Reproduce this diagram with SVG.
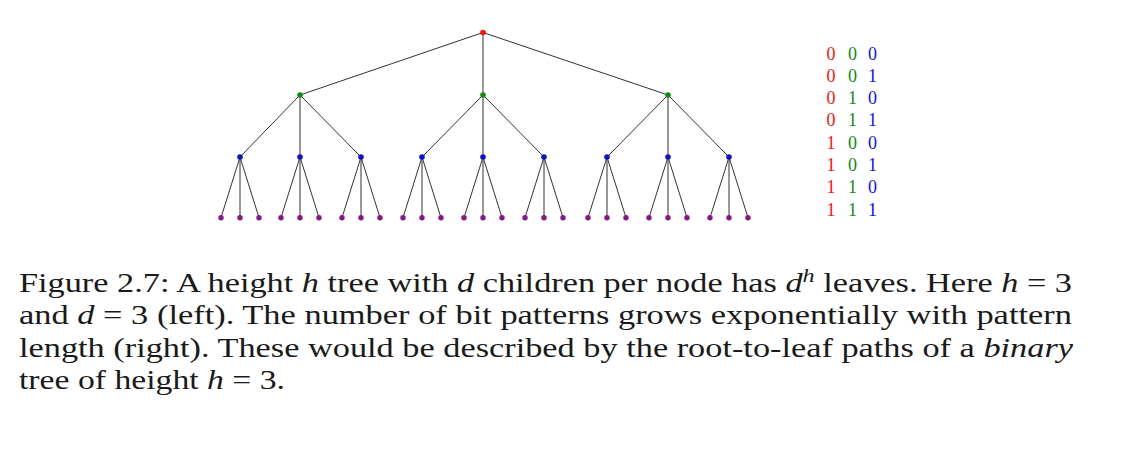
<svg xmlns="http://www.w3.org/2000/svg" width="1122" height="452" viewBox="0 0 1122 452">
<style>
.e{stroke:#333333;stroke-width:1;fill:none}
.r{fill:#ff0d0d}.g{fill:#138a13}.b{fill:#1010d0}.p{fill:#8a148a}
.bit{font-family:"Liberation Serif",serif;font-size:18px;text-anchor:middle}
.br{fill:#ff1010}.bg{fill:#108a10}.bb{fill:#1010ff}
.cap{font-family:"Liberation Serif","DejaVu Serif",serif;font-size:27px;fill:#1a1a1a}
.it{font-style:italic}
</style>
<rect width="1122" height="452" fill="#ffffff"/>
<g id="connectors">
<path class="e" d="M483,32.5L300,95M483,32.5L483,95M483,32.5L668,95"/>
<path class="e" d="M300,95L240,157M300,95L300,157M300,95L361,157M483,95L422,157M483,95L483,157M483,95L544,157M668,95L607,157M668,95L668,157M668,95L729,157"/>
<path class="e" d="M240,157L221,217.7M240,157L240,217.7M240,157L259,217.7
M300,157L281,217.7M300,157L300,217.7M300,157L319,217.7
M361,157L342,217.7M361,157L361,217.7M361,157L380,217.7
M422,157L403,217.7M422,157L422,217.7M422,157L441,217.7
M483,157L464,217.7M483,157L483,217.7M483,157L502,217.7
M544,157L525,217.7M544,157L544,217.7M544,157L563,217.7
M607,157L588,217.7M607,157L607,217.7M607,157L626,217.7
M668,157L649,217.7M668,157L668,217.7M668,157L687,217.7
M729,157L710,217.7M729,157L729,217.7M729,157L748,217.7"/>
</g>
<g id="root"><circle class="r" cx="483" cy="32.5" r="2.8"/></g>
<g id="level1"><circle class="g" cx="300" cy="95" r="2.8"/><circle class="g" cx="483" cy="95" r="2.8"/><circle class="g" cx="668" cy="95" r="2.8"/></g>
<g id="level2">
<circle class="b" cx="240" cy="157" r="2.8"/><circle class="b" cx="300" cy="157" r="2.8"/><circle class="b" cx="361" cy="157" r="2.8"/>
<circle class="b" cx="422" cy="157" r="2.8"/><circle class="b" cx="483" cy="157" r="2.8"/><circle class="b" cx="544" cy="157" r="2.8"/>
<circle class="b" cx="607" cy="157" r="2.8"/><circle class="b" cx="668" cy="157" r="2.8"/><circle class="b" cx="729" cy="157" r="2.8"/>
</g>
<g id="leaves">
<circle class="p" cx="221" cy="217.7" r="2.7"/><circle class="p" cx="240" cy="217.7" r="2.7"/><circle class="p" cx="259" cy="217.7" r="2.7"/>
<circle class="p" cx="281" cy="217.7" r="2.7"/><circle class="p" cx="300" cy="217.7" r="2.7"/><circle class="p" cx="319" cy="217.7" r="2.7"/>
<circle class="p" cx="342" cy="217.7" r="2.7"/><circle class="p" cx="361" cy="217.7" r="2.7"/><circle class="p" cx="380" cy="217.7" r="2.7"/>
<circle class="p" cx="403" cy="217.7" r="2.7"/><circle class="p" cx="422" cy="217.7" r="2.7"/><circle class="p" cx="441" cy="217.7" r="2.7"/>
<circle class="p" cx="464" cy="217.7" r="2.7"/><circle class="p" cx="483" cy="217.7" r="2.7"/><circle class="p" cx="502" cy="217.7" r="2.7"/>
<circle class="p" cx="525" cy="217.7" r="2.7"/><circle class="p" cx="544" cy="217.7" r="2.7"/><circle class="p" cx="563" cy="217.7" r="2.7"/>
<circle class="p" cx="588" cy="217.7" r="2.7"/><circle class="p" cx="607" cy="217.7" r="2.7"/><circle class="p" cx="626" cy="217.7" r="2.7"/>
<circle class="p" cx="649" cy="217.7" r="2.7"/><circle class="p" cx="668" cy="217.7" r="2.7"/><circle class="p" cx="687" cy="217.7" r="2.7"/>
<circle class="p" cx="710" cy="217.7" r="2.7"/><circle class="p" cx="729" cy="217.7" r="2.7"/><circle class="p" cx="748" cy="217.7" r="2.7"/>
</g>
<g id="bits" class="bit">
<text y="59.5"><tspan x="831" class="br">0</tspan><tspan x="852.5" class="bg">0</tspan><tspan x="872.5" class="bb">0</tspan></text>
<text y="81.8"><tspan x="831" class="br">0</tspan><tspan x="852.5" class="bg">0</tspan><tspan x="872.5" class="bb">1</tspan></text>
<text y="104.1"><tspan x="831" class="br">0</tspan><tspan x="852.5" class="bg">1</tspan><tspan x="872.5" class="bb">0</tspan></text>
<text y="126.4"><tspan x="831" class="br">0</tspan><tspan x="852.5" class="bg">1</tspan><tspan x="872.5" class="bb">1</tspan></text>
<text y="148.7"><tspan x="831" class="br">1</tspan><tspan x="852.5" class="bg">0</tspan><tspan x="872.5" class="bb">0</tspan></text>
<text y="171"><tspan x="831" class="br">1</tspan><tspan x="852.5" class="bg">0</tspan><tspan x="872.5" class="bb">1</tspan></text>
<text y="193.3"><tspan x="831" class="br">1</tspan><tspan x="852.5" class="bg">1</tspan><tspan x="872.5" class="bb">0</tspan></text>
<text y="215.6"><tspan x="831" class="br">1</tspan><tspan x="852.5" class="bg">1</tspan><tspan x="872.5" class="bb">1</tspan></text>
</g>
<g id="caption" class="cap">
<text x="19" y="291.7" textLength="1053" lengthAdjust="spacingAndGlyphs">Figure 2.7:  A height <tspan class="it">h</tspan> tree with <tspan class="it">d</tspan> children per node has <tspan class="it">d</tspan><tspan class="it" font-size="19" dy="-10">h</tspan><tspan dy="10"> leaves.  Here </tspan><tspan class="it">h</tspan> = 3</text>
<text x="19" y="324.2" textLength="1053" lengthAdjust="spacingAndGlyphs">and <tspan class="it">d</tspan> = 3 (left).  The number of bit patterns grows exponentially with pattern</text>
<text x="19" y="356.7" textLength="1054" lengthAdjust="spacingAndGlyphs">length (right).  These would be described by the root-to-leaf paths of a <tspan class="it">binary</tspan></text>
<text x="19" y="389.2" textLength="266" lengthAdjust="spacingAndGlyphs">tree of height <tspan class="it">h</tspan> = 3.</text>
</g>
</svg>
